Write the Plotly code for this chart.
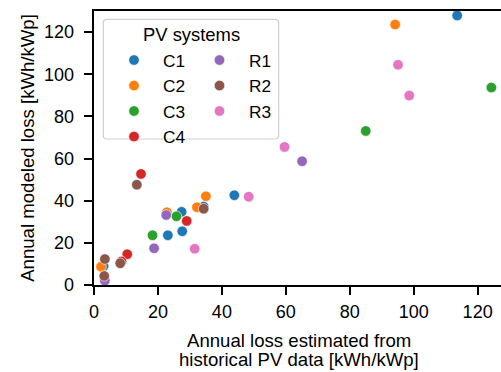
import plotly.graph_objects as go

# ---- data ----
systems = ["C1", "C2", "C3", "C4", "R1", "R2", "R3"]
colors = ["#1f77b4", "#ff7f0e", "#2ca02c", "#d62728", "#9467bd", "#8c564b", "#e377c2"]

c1_x = [43.9, 27.4, 34.3, 23.1, 27.6, 3.0, 113.6]
c1_y = [42.6, 34.7, 37.2, 23.6, 25.5, 9.0, 127.9]
c2_x = [35.0, 22.8, 32.2, 2.2, 94.2]
c2_y = [42.1, 34.5, 36.9, 8.7, 123.6]
c3_x = [25.8, 18.3, 85.0, 124.3]
c3_y = [32.6, 23.6, 73.1, 93.7]
c4_x = [14.7, 29.0, 10.4, 8.6]
c4_y = [52.7, 30.4, 14.6, 11.2]
r1_x = [22.6, 18.8, 3.4, 65.1]
r1_y = [33.2, 17.4, 2.1, 58.7]
r2_x = [13.4, 34.3, 8.2, 3.4, 3.2]
r2_y = [47.6, 36.2, 10.3, 12.3, 4.3]
r3_x = [48.4, 31.5, 95.1, 98.6, 59.6]
r3_y = [41.9, 17.2, 104.5, 89.9, 65.5]

xs = [c1_x, c2_x, c3_x, c4_x, r1_x, r2_x, r3_x]
ys = [c1_y, c2_y, c3_y, c4_y, r1_y, r2_y, r3_y]

x_ticks = [0, 20, 40, 60, 80, 100, 120]
y_ticks = [0, 20, 40, 60, 80, 100, 120]

x_title_lines = ["Annual loss estimated from", "historical PV data [kWh/kWp]"]
y_title = "Annual modeled loss [kWh/kWp]"
legend_title = "PV systems"

# ---- layout geometry (pixels) ----
W, H = 501, 372
ML, MR, MT, MB = 94, 0, 11, 87
PW, PH = W - ML - MR, H - MT - MB


def px(x):
    return (x - ML) / PW


def py(y):
    return 1 - (y - MT) / PH


FONT = "Liberation Sans, Arial, sans-serif"

fig = go.Figure()
for i, name in enumerate(systems):
    fig.add_trace(go.Scatter(
        x=xs[i], y=ys[i], mode="markers", name=name,
        marker=dict(size=10.5, color=colors[i], line=dict(width=0.6, color="white")),
        legend="legend" if name.startswith("C") else "legend2",
        showlegend=True,
    ))

# legend frame (rounded rectangle)
bx0, bx1, by0, by1, r = 103.3, 278.7, 19.3, 139.0, 3.5
def P(x, y):
    return f"{px(x):.5f},{py(y):.5f}"
path = (f"M {P(bx0 + r, by0)} L {P(bx1 - r, by0)} Q {P(bx1, by0)} {P(bx1, by0 + r)} "
        f"L {P(bx1, by1 - r)} Q {P(bx1, by1)} {P(bx1 - r, by1)} "
        f"L {P(bx0 + r, by1)} Q {P(bx0, by1)} {P(bx0, by1 - r)} "
        f"L {P(bx0, by0 + r)} Q {P(bx0, by0)} {P(bx0 + r, by0)} Z")
fig.add_shape(type="path", path=path, xref="paper", yref="paper",
              line=dict(color="#d0d0d0", width=1.2), fillcolor="rgba(255,255,255,0.8)",
              layer="above")

fig.add_annotation(text=legend_title, x=px(191), y=py(34.5), xref="paper", yref="paper",
                   showarrow=False, xanchor="center", yanchor="middle",
                   font=dict(family=FONT, size=18.4, color="black"))

# x-axis title (two tightly spaced lines)
for txt, yy in zip(x_title_lines, [340.0, 359.5]):
    fig.add_annotation(text=txt, x=px(299), y=py(yy), xref="paper", yref="paper",
                       showarrow=False, xanchor="center", yanchor="middle",
                       font=dict(family=FONT, size=18.6, color="black"))

legend_common = dict(bgcolor="rgba(0,0,0,0)", borderwidth=0, xanchor="left", yanchor="top",
                     font=dict(family=FONT, size=17.3, color="black"), tracegroupgap=0,
                     orientation="v")
fig.update_layout(
    width=W, height=H,
    margin=dict(l=ML, r=MR, t=MT, b=MB, pad=0),
    plot_bgcolor="white", paper_bgcolor="white",
    font=dict(family=FONT, size=18, color="black"),
    legend=dict(x=px(105), y=py(42.3), itemwidth=48, **legend_common),
    legend2=dict(x=px(190), y=py(42.3), itemwidth=49, **legend_common),
    xaxis=dict(range=[0, PW / 3.197], tickvals=x_ticks, ticks="outside", ticklen=8.5,
               tickwidth=1.5, tickcolor="black", showline=True, linecolor="black",
               linewidth=1.6, mirror=True, showgrid=False, zeroline=False,
               tickfont=dict(size=18), ticklabelstandoff=1),
    yaxis=dict(range=[0, 130], tickvals=y_ticks, ticks="outside", ticklen=8.5,
               tickwidth=1.5, tickcolor="black", showline=True, linecolor="black",
               linewidth=1.6, mirror=False, showgrid=False, zeroline=False,
               tickfont=dict(size=18), ticklabelstandoff=6,
               title=dict(text=y_title, font=dict(size=18.6), standoff=5)),
)

fig.write_html("out.html", post_script="document.body.style.margin='0';",
               config={"displayModeBar": False})
